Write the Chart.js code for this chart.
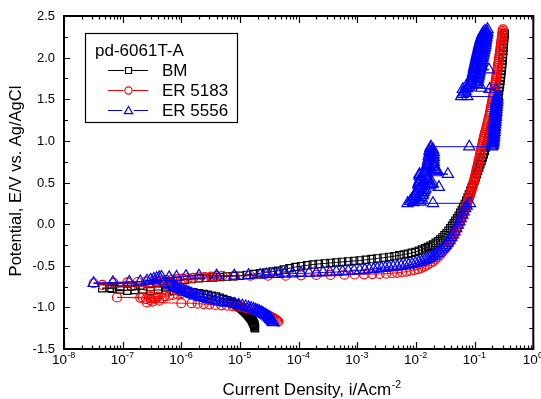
<!DOCTYPE html>
<html><head><meta charset="utf-8">
<script src="https://cdn.jsdelivr.net/npm/chart.js@4/dist/chart.umd.min.js"></script>
<style>html,body{margin:0;padding:0;background:#fff;overflow:hidden}#wrap{width:541px;height:399px}</style>
</head><body><div id="wrap"><canvas id="c" width="541" height="399"></canvas></div>
<script>
// ---- texts ----
const legendTitle = 'pd-6061T-A';
const seriesNames = ['BM', 'ER 5183', 'ER 5556'];
const xTitle = 'Current Density, i/Acm';
const xTitleSup = '-2';
const yTitle = 'Potential, E/V vs. Ag/AgCl';
// ---- axis ticks ----
const xDecades = [-8, -7, -6, -5, -4, -3, -2, -1, 0];
const yTicks = [2.5, 2.0, 1.5, 1.0, 0.5, 0.0, -0.5, -1.0, -1.5];
// ---- data: [current density (A/cm2), potential (V)] ----
const bmPoints = [
[1.8e-5,-1.25],[1.79e-5,-1.24],[1.78e-5,-1.23],[1.765e-5,-1.22],[1.75e-5,-1.21],[1.73e-5,-1.2],[1.7e-5,-1.19],[1.675e-5,-1.18],[1.65e-5,-1.17],[1.625e-5,-1.16],[1.6e-5,-1.15],[1.565e-5,-1.14],[1.53e-5,-1.13],[1.49e-5,-1.12],[1.45e-5,-1.11],[1.415e-5,-1.1],[1.38e-5,-1.09],[1.34e-5,-1.08],[1.3e-5,-1.07],[1.26e-5,-1.06],[1.22e-5,-1.05],[1.175e-5,-1.04],[1.13e-5,-1.03],[1.09e-5,-1.02],[1.05e-5,-1.01],[1e-5,-1.0],[9.6e-6,-0.99],[9.1e-6,-0.98],[8.7e-6,-0.97],[8.2e-6,-0.96],[7.8e-6,-0.95],[7.3e-6,-0.94],[6.9e-6,-0.93],[6e-6,-0.915],[5.2e-6,-0.9],[4.5e-6,-0.885],[3.9e-6,-0.87],[3.3e-6,-0.86],[2.8e-6,-0.85],[2.4e-6,-0.84],[2e-6,-0.83],[1.6e-6,-0.82],[1.3e-6,-0.815],[1e-6,-0.81],[7.5e-7,-0.8],[5.5e-7,-0.795],[4e-7,-0.79],[3e-7,-0.8],[2.2e-7,-0.785],[1.6e-7,-0.79],[1.2e-7,-0.8],[9e-8,-0.785],[6.5e-8,-0.775],[4.5e-8,-0.77],
[6e-8,-0.765],[9e-8,-0.755],[1.4e-7,-0.745],[2e-7,-0.735],[2.8e-7,-0.72],[3.8e-7,-0.71],[5e-7,-0.7],[6.6e-7,-0.69],[8.7e-7,-0.68],[1.15e-6,-0.67],[1.5e-6,-0.66],[2e-6,-0.65],[2.7e-6,-0.645],[3.5e-6,-0.64],[4.6e-6,-0.635],[6e-6,-0.63],[7.8e-6,-0.625],[1e-5,-0.62],[1.3e-5,-0.61],[1.7e-5,-0.6],[2.2e-5,-0.59],[2.8e-5,-0.58],[3.6e-5,-0.57],[4.5e-5,-0.56],[5.6e-5,-0.545],[7e-5,-0.53],[8.8e-5,-0.515],[1.1e-4,-0.505],[1.4e-4,-0.495],[1.75e-4,-0.485],[2.2e-4,-0.478],[2.8e-4,-0.472],[3.5e-4,-0.466],[4.4e-4,-0.46],[5.5e-4,-0.454],[7e-4,-0.448],[8.8e-4,-0.442],[1.1e-3,-0.436],[1.4e-3,-0.428],[1.75e-3,-0.42],[2.2e-3,-0.412],[2.8e-3,-0.403],[3.5e-3,-0.394],[4.3e-3,-0.385],[5.2e-3,-0.375],[6.2e-3,-0.365],[7.3e-3,-0.355],[8.5e-3,-0.345],[9.8e-3,-0.335],[1.12e-2,-0.32],[1.27e-2,-0.305],[1.43e-2,-0.29],[1.6e-2,-0.275],[1.78e-2,-0.26],[1.97e-2,-0.245],[2.17e-2,-0.225],[2.38e-2,-0.205],[2.6e-2,-0.185],[2.83e-2,-0.16],[3.07e-2,-0.135],[3.32e-2,-0.11],[3.58e-2,-0.08],[3.85e-2,-0.05],[4.13e-2,-0.02],[4.42e-2,0.01],[4.72e-2,0.04],[5.03e-2,0.07],[5.35e-2,0.1],[5.7e-2,0.135],[6.05e-2,0.17],[6.4e-2,0.205],[6.8e-2,0.24],[7.2e-2,0.28],[7.6e-2,0.32],[8e-2,0.36],
[8.45e-2,0.4],[8.9e-2,0.44],[9.4e-2,0.48],[9.9e-2,0.52],[0.104,0.56],[0.109,0.6],[0.114,0.64],[0.119,0.68],[0.125,0.72],[0.131,0.76],[0.137,0.8],[0.143,0.84],[0.149,0.88],[0.155,0.92],[0.161,0.96],[0.167,1.0],[0.173,1.04],[0.179,1.08],[0.185,1.12],[0.191,1.16],[0.197,1.2],[0.204,1.24],[0.211,1.28],[0.218,1.32],[0.225,1.36],[0.232,1.4],[0.238,1.44],[0.244,1.48],[0.25,1.52],[0.255,1.56],[0.26,1.6],[0.265,1.64],[0.27,1.68],[0.275,1.72],[0.279,1.76],[0.283,1.8],[0.287,1.84],[0.291,1.88],[0.295,1.92],[0.298,1.96],[0.301,2.0],[0.304,2.04],[0.307,2.08],[0.31,2.12],[0.313,2.16],[0.316,2.2],[0.319,2.24],[0.322,2.27],[0.325,2.29]
];
const er5183Points = [
[4.5e-5,-1.17],[4.3e-5,-1.16],[4.1e-5,-1.15],[3.9e-5,-1.14],[3.7e-5,-1.13],[3.5e-5,-1.12],[3.3e-5,-1.11],[3.1e-5,-1.1],[2.9e-5,-1.09],[2.7e-5,-1.08],[2.5e-5,-1.07],[2.3e-5,-1.06],[2.1e-5,-1.05],[1.9e-5,-1.04],[1.7e-5,-1.03],[1.5e-5,-1.02],[1.3e-5,-1.01],[1.1e-5,-1.0],[9e-6,-0.99],[7.5e-6,-0.985],[6e-6,-0.98],[4.8e-6,-0.975],[3.8e-6,-0.97],[3e-6,-0.965],[2.4e-6,-0.96],[1.9e-6,-0.955],[1.5e-6,-0.95],[1e-6,-0.95],
[2.6e-7,-0.94],[3.2e-7,-0.93],[4.2e-7,-0.92],[3e-7,-0.91],[2.5e-7,-0.9],[3.6e-7,-0.895],[4.8e-7,-0.89],[2e-7,-0.885],[8e-8,-0.88],[2.2e-7,-0.88],[3e-7,-0.875],[4e-7,-0.87],[5.2e-7,-0.865],[6.2e-7,-0.86],[7.2e-7,-0.85],[8.5e-7,-0.84],[1e-6,-0.83],[1.3e-6,-0.825],[1.4e-6,-0.82],[1.2e-6,-0.8],[9e-7,-0.78],[6e-7,-0.76],[3e-7,-0.75],[1.2e-7,-0.74],[4.5e-8,-0.73],[3.2e-8,-0.71],
[7e-8,-0.705],[1.2e-7,-0.7],[1.8e-7,-0.695],[2.5e-7,-0.69],[3.5e-7,-0.685],[4.5e-7,-0.675],[5.5e-7,-0.67],[7e-7,-0.665],[8.5e-7,-0.66],[1.05e-6,-0.655],[1.3e-6,-0.65],[1.6e-6,-0.645],[2e-6,-0.64],[2.5e-6,-0.635],[3.2e-6,-0.63],[4e-6,-0.625],[5e-6,-0.62],[8e-6,-0.62],[1.5e-5,-0.62],[3e-5,-0.62],[6e-5,-0.62],[1.1e-4,-0.615],[2e-4,-0.61],[3.5e-4,-0.61],[6e-4,-0.607],[9e-4,-0.605],[1.3e-3,-0.603],[1.8e-3,-0.6],[2.4e-3,-0.598],[3.1e-3,-0.595],[3.9e-3,-0.59],[4.8e-3,-0.585],[5.8e-3,-0.578],[6.9e-3,-0.57],[8.1e-3,-0.56],[9.4e-3,-0.55],[1.08e-2,-0.54],[1.23e-2,-0.525],[1.39e-2,-0.51],[1.56e-2,-0.49],[1.74e-2,-0.47],[1.93e-2,-0.45],[2.13e-2,-0.425],[2.34e-2,-0.4],[2.56e-2,-0.37],[2.79e-2,-0.34],
[3.1e-2,-0.3],[3.3e-2,-0.275],[3.52e-2,-0.25],[3.7e-2,-0.225],[3.88e-2,-0.2],[4.09e-2,-0.175],[4.28e-2,-0.15],[4.45e-2,-0.125],[4.63e-2,-0.1],[4.82e-2,-0.075],[5e-2,-0.05],[5.18e-2,-0.025],[5.37e-2,0.0],[5.56e-2,0.025],[5.76e-2,0.05],[5.97e-2,0.075],[6.18e-2,0.1],[6.4e-2,0.125],[6.61e-2,0.15],[6.81e-2,0.175],[7e-2,0.2],[7.22e-2,0.225],[7.45e-2,0.25],[7.68e-2,0.275],[7.9e-2,0.3],[8.12e-2,0.325],[8.34e-2,0.35],[8.55e-2,0.375],[8.76e-2,0.4],[8.97e-2,0.425],[9.18e-2,0.45],[9.38e-2,0.475],[9.58e-2,0.5],[9.78e-2,0.525],[9.98e-2,0.55],[0.1018,0.575],[0.1038,0.6],[0.1058,0.625],[0.1078,0.65],[0.1099,0.675],[0.112,0.7],[0.1141,0.725],[0.1162,0.75],[0.1184,0.775],[0.1206,0.8],[0.1228,0.825],[0.125,0.85],[0.1273,0.875],[0.1296,0.9],[0.132,0.925],[0.1344,0.95],[0.1369,0.975],[0.1394,1.0],[0.142,1.025],[0.1446,1.05],[0.1473,1.075],[0.15,1.1],[0.155,1.125],[0.158,1.15],[0.161,1.175],[0.164,1.2],[0.1675,1.225],[0.171,1.25],[0.1745,1.275],[0.178,1.3],[0.181,1.325],[0.184,1.35],[0.187,1.375],[0.19,1.4],[0.193,1.425],[0.196,1.45],[0.199,1.475],[0.202,1.5],[0.205,1.525],[0.208,1.55],[0.211,1.575],[0.214,1.6],[0.217,1.625],[0.22,1.65],[0.223,1.675],[0.226,1.7],[0.229,1.725],[0.232,1.75],[0.235,1.775],[0.238,1.8],[0.241,1.825],[0.244,1.85],[0.247,1.875],[0.25,1.9],[0.253,1.925],[0.256,1.95],[0.259,1.975],[0.262,2.0],[0.265,2.025],[0.268,2.05],[0.271,2.075],[0.274,2.1],[0.277,2.125],[0.28,2.15],[0.283,2.175],[0.286,2.2],[0.289,2.225],[0.292,2.25],[0.295,2.275],[0.298,2.3],[0.3,2.32],[0.303,2.34]
];
const er5556Points = [
[3.7e-5,-1.18],[3.6e-5,-1.17],[3.5e-5,-1.16],[3.4e-5,-1.15],[3.3e-5,-1.14],[3.2e-5,-1.13],[3.1e-5,-1.12],[3e-5,-1.11],[2.85e-5,-1.1],[2.7e-5,-1.09],[2.55e-5,-1.08],[2.45e-5,-1.07],[2.3e-5,-1.06],[2.15e-5,-1.05],[2e-5,-1.04],[1.85e-5,-1.03],[1.7e-5,-1.02],[1.55e-5,-1.01],[1.4e-5,-1.0],[1.25e-5,-0.99],[1.1e-5,-0.98],[9.5e-6,-0.97],[8.2e-6,-0.96],[7e-6,-0.95],[6e-6,-0.945],[5.1e-6,-0.94],[4.4e-6,-0.93],[3.8e-6,-0.92],[3.3e-6,-0.91],[2.9e-6,-0.9],[2.5e-6,-0.89],[2.2e-6,-0.88],[2e-6,-0.87],[1.8e-6,-0.86],[1.65e-6,-0.85],[1.5e-6,-0.84],[1.4e-6,-0.83],[1.3e-6,-0.82],[1.2e-6,-0.81],[1.1e-6,-0.8],[1e-6,-0.79],[9.3e-7,-0.78],[8.6e-7,-0.77],[8e-7,-0.76],[7.4e-7,-0.75],[6.8e-7,-0.74],[6.3e-7,-0.73],[5.8e-7,-0.72],
[3.2e-8,-0.71],[6.8e-8,-0.7],[1.3e-7,-0.695],[2e-7,-0.69],[2.6e-7,-0.68],[3e-7,-0.67],[3.4e-7,-0.66],[3.8e-7,-0.65],[4.2e-7,-0.64],[4.6e-7,-0.635],[6.2e-7,-0.64],[8.3e-7,-0.635],[1.2e-6,-0.625],[2e-6,-0.62],[4e-6,-0.62],[8e-6,-0.62],[1.4e-5,-0.615],[2.2e-5,-0.61],[2.8e-5,-0.605],[3.6e-5,-0.6],[4.5e-5,-0.6],[5.8e-5,-0.595],[7.9e-5,-0.595],[1.1e-4,-0.59],[1.5e-4,-0.59],[2e-4,-0.585],[2.6e-4,-0.58],[3.4e-4,-0.58],[4.4e-4,-0.575],[5.6e-4,-0.57],[7e-4,-0.565],[8.8e-4,-0.56],[1.1e-3,-0.555],[1.35e-3,-0.55],[1.6e-3,-0.545],[1.9e-3,-0.54],[2.2e-3,-0.535],[2.6e-3,-0.53],[3e-3,-0.525],[3.5e-3,-0.52],[4.1e-3,-0.515],[4.8e-3,-0.51],[5.6e-3,-0.505],[6.5e-3,-0.5],[7.5e-3,-0.49],[8.6e-3,-0.48],[9.8e-3,-0.47],[1.11e-2,-0.46],[1.25e-2,-0.45],[1.4e-2,-0.435],[1.56e-2,-0.42],[1.73e-2,-0.405],[1.91e-2,-0.39],[2.1e-2,-0.37],[2.3e-2,-0.35],[2.51e-2,-0.33],[2.73e-2,-0.305],[2.96e-2,-0.28],[3.2e-2,-0.255],[3.45e-2,-0.225],[3.71e-2,-0.195],[3.98e-2,-0.16],[4.26e-2,-0.125],[4.55e-2,-0.09],[4.85e-2,-0.05],[5.16e-2,-0.01],[5.48e-2,0.03],[5.81e-2,0.07],[6.15e-2,0.11],[6.5e-2,0.15],[6.9e-2,0.19],[7.3e-2,0.22],[8.3e-2,0.25],
[1.95e-2,0.25],[7.2e-3,0.25],[9e-3,0.262],[1.2e-2,0.268],[8e-3,0.275],[1.1e-2,0.285],[8.5e-3,0.295],[1.25e-2,0.305],[9e-3,0.315],[1.2e-2,0.325],[9.5e-3,0.335],[1.3e-2,0.345],[9.5e-3,0.355],[1.3e-2,0.365],[1e-2,0.375],[1.35e-2,0.385],[1.05e-2,0.395],[1.4e-2,0.405],[1.1e-2,0.415],[1.45e-2,0.425],[1.15e-2,0.435],[2.45e-2,0.445],
[1.2e-2,0.455],[1.7e-2,0.462],[1.1e-2,0.47],[1.8e-2,0.478],[1.1e-2,0.486],[1.9e-2,0.494],[1.15e-2,0.502],[1.7e-2,0.51],[1.15e-2,0.52],[1.6e-2,0.53],[1.2e-2,0.54],[1.6e-2,0.55],[1.2e-2,0.56],[1.5e-2,0.57],[1.15e-2,0.58],[1.4e-2,0.59],[1.15e-2,0.6],[3.5e-2,0.6],
[1.5e-2,0.615],[2.2e-2,0.62],[1.45e-2,0.63],[2.3e-2,0.64],[1.5e-2,0.65],[2.2e-2,0.66],[1.5e-2,0.67],[2.1e-2,0.68],[1.55e-2,0.69],[2e-2,0.7],[1.55e-2,0.71],[2e-2,0.72],[1.6e-2,0.73],[2e-2,0.745],[1.6e-2,0.76],[2e-2,0.775],[1.65e-2,0.79],[2e-2,0.805],[1.65e-2,0.82],[2e-2,0.835],[1.7e-2,0.85],[2e-2,0.865],[1.7e-2,0.88],[1.95e-2,0.895],[1.75e-2,0.91],[1.8e-2,0.93],
[8.1e-2,0.93],[0.195,0.93],
[0.2,0.94],[0.207,0.955],[0.2,0.97],[0.21,0.985],[0.203,1.0],[0.212,1.015],[0.205,1.03],[0.214,1.045],[0.207,1.06],[0.216,1.075],[0.209,1.09],[0.218,1.105],[0.211,1.12],[0.22,1.135],[0.213,1.15],[0.222,1.165],[0.215,1.18],[0.224,1.195],[0.217,1.21],[0.226,1.225],[0.219,1.24],[0.228,1.255],[0.221,1.27],[0.23,1.285],[0.223,1.3],[0.232,1.315],[0.225,1.33],[0.234,1.345],[0.227,1.36],[0.236,1.375],[0.229,1.39],[0.238,1.405],[0.231,1.42],[0.24,1.435],[0.233,1.45],[0.242,1.465],[0.235,1.48],[0.244,1.495],[0.238,1.51],[0.245,1.53],
[0.075,1.535],[0.059,1.535],[0.062,1.56],[0.065,1.58],[0.07,1.6],[0.063,1.62],[0.075,1.63],[0.13,1.635],[0.18,1.62],[0.23,1.62],[0.08,1.645],[0.072,1.66],
[0.085,1.67],[0.108,1.68],[0.086,1.69],[0.11,1.7],[0.087,1.71],[0.112,1.72],[0.088,1.73],[0.113,1.74],[0.09,1.75],[0.115,1.76],[0.091,1.77],[0.117,1.78],[0.093,1.79],[0.118,1.8],[0.094,1.81],[0.12,1.82],[0.095,1.83],[0.121,1.84],[0.175,1.855],[0.097,1.86],[0.123,1.87],[0.098,1.88],[0.125,1.89],[0.1,1.9],[0.127,1.91],[0.101,1.92],[0.129,1.93],[0.103,1.94],[0.131,1.95],[0.104,1.96],[0.133,1.97],[0.106,1.98],[0.135,1.99],[0.107,2.0],[0.137,2.01],[0.109,2.02],[0.139,2.03],[0.11,2.04],[0.141,2.05],[0.112,2.06],[0.143,2.07],[0.114,2.08],[0.145,2.09],[0.116,2.1],[0.147,2.11],[0.117,2.12],[0.149,2.13],[0.119,2.14],[0.151,2.15],[0.121,2.16],[0.152,2.17],[0.123,2.18],[0.154,2.19],[0.125,2.2],[0.155,2.21],[0.127,2.22],[0.157,2.23],[0.13,2.24],[0.158,2.25],[0.133,2.26],[0.16,2.27],[0.136,2.28],[0.162,2.29],[0.14,2.3],[0.164,2.31],[0.15,2.32],[0.166,2.34]
];

const COLORS = ['#000000', '#ff0000', '#0000ff'];
const FONT = '"Liberation Sans", Arial, sans-serif';
const toXY = arr => arr.map(p => ({x: p[0], y: p[1]}));

function mk(label, pts, color, style, radius, order) {
  return {label, data: toXY(pts), showLine: true, borderColor: color, borderWidth: 1,
    pointStyle: style, pointRadius: radius, pointBorderColor: color, pointBorderWidth: 1.2,
    pointBackgroundColor: 'rgba(0,0,0,0)', order};
}

function drawMarker(ctx, style, x, y, r, color) {
  ctx.strokeStyle = color; ctx.lineWidth = 1.2; ctx.beginPath();
  if (style === 'rect') { ctx.rect(x - r, y - r, 2 * r, 2 * r); }
  else if (style === 'circle') { ctx.arc(x, y, r, 0, Math.PI * 2); }
  else { ctx.moveTo(x, y - r); ctx.lineTo(x + r * 0.866, y + r * 0.5); ctx.lineTo(x - r * 0.866, y + r * 0.5); ctx.closePath(); }
  ctx.stroke();
}

const framePlugin = {
  id: 'frame',
  afterDraw(chart) {
    const ctx = chart.ctx, a = chart.chartArea, xs = chart.scales.x, ys = chart.scales.y;
    ctx.save();
    ctx.strokeStyle = '#000'; ctx.fillStyle = '#000';
    // ticks
    ctx.lineWidth = 1.2; ctx.beginPath();
    xDecades.forEach(d => {
      const px = Math.round(xs.getPixelForValue(Math.pow(10, d))) + 0.5;
      ctx.moveTo(px, a.bottom); ctx.lineTo(px, a.bottom - 7);
      ctx.moveTo(px, a.top); ctx.lineTo(px, a.top + 7);
      if (d < 0) for (let m = 2; m <= 9; m++) {
        const q = Math.round(xs.getPixelForValue(m * Math.pow(10, d))) + 0.5;
        ctx.moveTo(q, a.bottom); ctx.lineTo(q, a.bottom - 3.5);
        ctx.moveTo(q, a.top); ctx.lineTo(q, a.top + 3.5);
      }
    });
    yTicks.forEach((v, i) => {
      const py = Math.round(ys.getPixelForValue(v)) + 0.5;
      ctx.moveTo(a.left, py); ctx.lineTo(a.left + 6, py);
      ctx.moveTo(a.right, py); ctx.lineTo(a.right - 6, py);
      if (i < yTicks.length - 1) {
        const pm = Math.round(ys.getPixelForValue((v + yTicks[i + 1]) / 2)) + 0.5;
        ctx.moveTo(a.left, pm); ctx.lineTo(a.left + 4, pm);
        ctx.moveTo(a.right, pm); ctx.lineTo(a.right - 4, pm);
      }
    });
    ctx.stroke();
    // frame
    ctx.lineWidth = 2;
    ctx.strokeRect(a.left, a.top, a.right - a.left, a.bottom - a.top);
    // y tick labels
    ctx.font = '13px ' + FONT; ctx.textAlign = 'right'; ctx.textBaseline = 'middle';
    yTicks.forEach(v => ctx.fillText(v.toFixed(1), a.left - 9, ys.getPixelForValue(v) + 0.5));
    // x tick labels 10^n
    ctx.textBaseline = 'alphabetic'; ctx.textAlign = 'left';
    xDecades.forEach(d => {
      const px = xs.getPixelForValue(Math.pow(10, d));
      ctx.font = '13.5px ' + FONT; const w1 = ctx.measureText('10').width;
      ctx.font = '9px ' + FONT; const sup = String(d); const w2 = ctx.measureText(sup).width;
      const x0 = px - (w1 + w2) / 2 - 0.5;
      ctx.font = '13.5px ' + FONT; ctx.fillText('10', x0, 364);
      ctx.font = '9px ' + FONT; ctx.fillText(sup, x0 + w1 + 0.3, 357.5);
    });
    // x title
    ctx.font = '17px ' + FONT; const tw = ctx.measureText(xTitle).width;
    ctx.font = '10.5px ' + FONT; const sw = ctx.measureText(xTitleSup).width;
    const tx = 311.5 - (tw + sw) / 2;
    ctx.font = '17px ' + FONT; ctx.fillText(xTitle, tx, 395);
    ctx.font = '10.5px ' + FONT; ctx.fillText(xTitleSup, tx + tw + 0.5, 387.5);
    // y title
    ctx.save(); ctx.translate(20.5, 181); ctx.rotate(-Math.PI / 2);
    ctx.font = '16.5px ' + FONT; ctx.textAlign = 'center'; ctx.fillText(yTitle, 0, 0);
    ctx.restore();
    // legend
    ctx.lineWidth = 1.2; ctx.strokeStyle = '#000';
    ctx.strokeRect(85.5, 33.5, 152, 89);
    ctx.font = '17px ' + FONT; ctx.textAlign = 'left'; ctx.fillStyle = '#000';
    ctx.fillText(legendTitle, 95, 56);
    const styles = ['rect', 'circle', 'triangle'], sizes = [3, 3.6, 4.8], rows = [70, 90, 110];
    seriesNames.forEach((n, i) => {
      const yy = rows[i] + 0.5;
      ctx.strokeStyle = COLORS[i]; ctx.lineWidth = 1; ctx.beginPath();
      ctx.moveTo(108, yy); ctx.lineTo(128 - sizes[i] - 1, yy);
      ctx.moveTo(128 + sizes[i] + 1, yy); ctx.lineTo(148, yy); ctx.stroke();
      drawMarker(ctx, styles[i], 128.5, yy + (i === 2 ? 0.8 : 0), sizes[i], COLORS[i]);
      ctx.fillStyle = '#000'; ctx.font = '17px ' + FONT;
      ctx.fillText(n, 162, rows[i] + 6);
    });
    ctx.restore();
  }
};

new Chart(document.getElementById('c').getContext('2d'), {
  type: 'scatter',
  data: {datasets: [
    mk(seriesNames[0], bmPoints, COLORS[0], 'rect', 5.2, 3),
    mk(seriesNames[1], er5183Points, COLORS[1], 'circle', 4.5, 2),
    mk(seriesNames[2], er5556Points, COLORS[2], 'triangle', 6.5, 1)
  ]},
  options: {
    responsive: false, animation: false, events: [],
    layout: {padding: {left: 0, right: 7, top: 16, bottom: 0}},
    plugins: {legend: {display: false}, tooltip: {enabled: false}, title: {display: false}},
    scales: {
      x: {type: 'logarithmic', min: 1e-8, max: 1, ticks: {display: false}, grid: {display: false}, border: {display: false},
          afterFit(s) { s.height = 50; }},
      y: {type: 'linear', min: -1.5, max: 2.5, ticks: {display: false}, grid: {display: false}, border: {display: false},
          afterFit(s) { s.width = 64; }}
    }
  },
  plugins: [framePlugin]
});
</script></body></html>
